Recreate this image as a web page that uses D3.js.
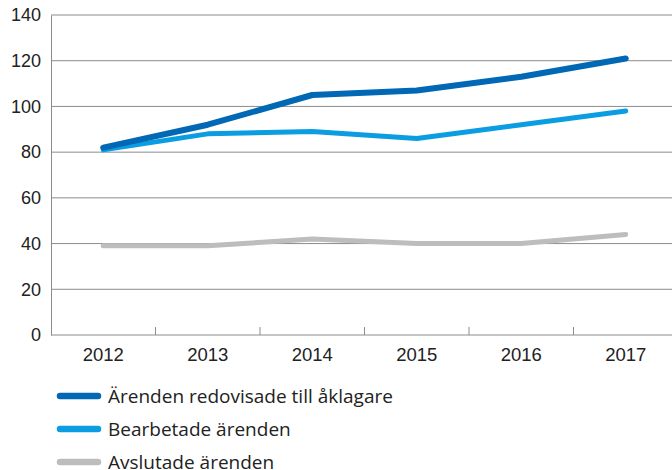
<!DOCTYPE html>
<html>
<head>
<meta charset="utf-8">
<script src="https://cdn.jsdelivr.net/npm/d3@7"></script>
<style>
  body { margin: 0; background: #fff; }
  svg { display: block; font-family: "Open Sans", sans-serif; }
</style>
</head>
<body>
<div id="chart"></div>
<script>
// Ärendestatistik 2012–2017
const years = ['2012', '2013', '2014', '2015', '2016', '2017'];
const redovisade = [82, 92, 105, 107, 113, 121];
const bearbetade = [81, 88, 89, 86, 92, 98];
const avslutade = [39, 39, 42, 40, 40, 44];
const yTicks = [0, 20, 40, 60, 80, 100, 120, 140];

const series = [
  { name: 'Ärenden redovisade till åklagare', values: redovisade, color: '#0068b4', width: 6 },
  { name: 'Bearbetade ärenden', values: bearbetade, color: '#0a9de2', width: 5 },
  { name: 'Avslutade ärenden', values: avslutade, color: '#bdbdbd', width: 5 },
];

const width = 672;
const height = 470;
const plotLeft = 51, plotRight = 678, plotTop = 15, plotBottom = 335;

const svg = d3.select('#chart').append('svg')
  .attr('width', width)
  .attr('height', height);

const x = d3.scaleBand().domain(years).range([plotLeft, plotRight]);
const y = d3.scaleLinear().domain([0, 140]).range([plotBottom, plotTop]);

// Stödlinjer
svg.append('g')
  .selectAll('line')
  .data(yTicks.filter(d => d > 0))
  .join('line')
  .attr('x1', plotLeft).attr('x2', width)
  .attr('y1', d => y(d)).attr('y2', d => y(d))
  .attr('stroke', '#8c8c8c')
  .attr('stroke-width', 1);

// y-axel
const yAxis = svg.append('g')
  .attr('transform', `translate(${plotLeft},0)`)
  .call(d3.axisLeft(y).tickValues(yTicks).tickSize(0).tickPadding(10));
yAxis.select('.domain').attr('stroke', '#8c8c8c');
yAxis.selectAll('text')
  .attr('font-size', '18px')
  .attr('fill', '#222');

// x-axel med streck mellan kategorierna
const xAxis = svg.append('g')
  .attr('transform', `translate(0,${plotBottom})`)
  .call(d3.axisBottom(x).tickSize(0).tickPadding(13));
xAxis.select('.domain').attr('stroke', '#8c8c8c').attr('d', `M${plotLeft},0H${width}`);
xAxis.selectAll('text')
  .attr('font-size', '18.5px')
  .attr('fill', '#222');
svg.append('g')
  .selectAll('line')
  .data(years.slice(1))
  .join('line')
  .attr('x1', d => x(d)).attr('x2', d => x(d))
  .attr('y1', plotBottom).attr('y2', plotBottom - 8)
  .attr('stroke', '#8c8c8c');

const line = d3.line()
  .x((d, i) => x(years[i]) + x.bandwidth() / 2)
  .y(d => y(d));

svg.append('g')
  .selectAll('path')
  .data(series.slice().reverse())
  .join('path')
  .attr('d', d => line(d.values))
  .attr('fill', 'none')
  .attr('stroke', d => d.color)
  .attr('stroke-width', d => d.width)
  .attr('stroke-linejoin', 'round')
  .attr('stroke-linecap', 'round');

// Legend
const legend = svg.append('g')
  .selectAll('g')
  .data(series)
  .join('g')
  .attr('transform', (d, i) => `translate(60,${396 + i * 33})`);

legend.append('line')
  .attr('x1', 0).attr('x2', 38)
  .attr('stroke', d => d.color)
  .attr('stroke-width', 6.5)
  .attr('stroke-linecap', 'round');

legend.append('text')
  .attr('x', 48)
  .attr('dy', '0.35em')
  .attr('font-size', '19px')
  .attr('fill', '#222')
  .text(d => d.name);
</script>
</body>
</html>
